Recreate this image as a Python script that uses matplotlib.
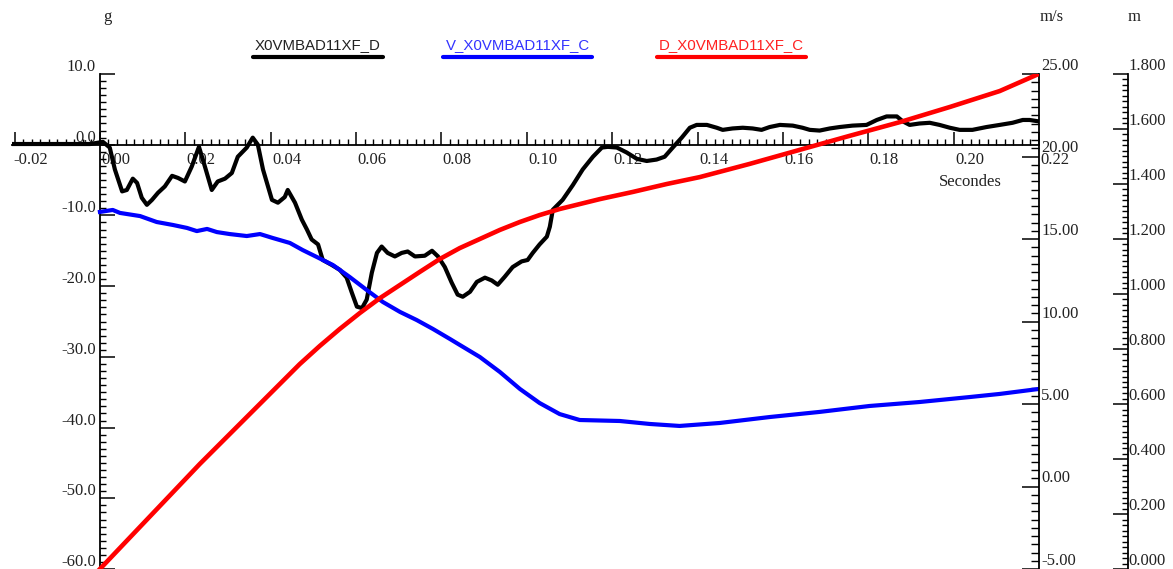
import numpy as np
import matplotlib
matplotlib.use("Agg")
import matplotlib.pyplot as plt
from matplotlib.ticker import MultipleLocator, FormatStrFormatter, FuncFormatter
from matplotlib.transforms import ScaledTranslation
from matplotlib.lines import Line2D

plt.rcParams['axes.unicode_minus'] = False

# acceleration X0VMBAD11XF_D (g)
t_acc = [-0.0206, -0.0023, 0.0007, 0.0023, 0.0035, 0.0052, 0.0063, 0.0077, 0.0087, 0.0098,
         0.0110, 0.0122, 0.0136, 0.0152, 0.0169, 0.0183, 0.0199, 0.0215, 0.0232, 0.0246,
         0.0262, 0.0276, 0.0293, 0.0309, 0.0323, 0.0344, 0.0358, 0.0370, 0.0382, 0.0403,
         0.0417, 0.0433, 0.0440, 0.0457, 0.0473, 0.0485, 0.0496, 0.0511, 0.0522, 0.0543,
         0.0562, 0.0578, 0.0590, 0.0602, 0.0614, 0.0625, 0.0637, 0.0649, 0.0660, 0.0674,
         0.0691, 0.0707, 0.0721, 0.0738, 0.0761, 0.0778, 0.0792, 0.0808, 0.0824, 0.0838,
         0.0850, 0.0867, 0.0883, 0.0902, 0.0918, 0.0932, 0.0948, 0.0967, 0.0988, 0.1002,
         0.1014, 0.1030, 0.1047, 0.1054, 0.1061, 0.1084, 0.1108, 0.1131, 0.1155, 0.1176,
         0.1190, 0.1211, 0.1234, 0.1258, 0.1281, 0.1304, 0.1323, 0.1342, 0.1363, 0.1382,
         0.1398, 0.1422, 0.1445, 0.1459, 0.1482, 0.1506, 0.1529, 0.1550, 0.1569, 0.1593,
         0.1623, 0.1646, 0.1663, 0.1686, 0.1710, 0.1733, 0.1763, 0.1796, 0.1820, 0.1843,
         0.1867, 0.1881, 0.1897, 0.1920, 0.1944, 0.1967, 0.1991, 0.2014, 0.2044, 0.2077,
         0.2108, 0.2138, 0.2162, 0.2178, 0.2199]
acc = [0.1, 0.1, 0.4, -0.4, -3.5, -6.6, -6.4, -4.8, -5.4, -7.5,
       -8.5, -7.8, -6.8, -5.9, -4.4, -4.7, -5.2, -3.1, -0.3, -3.1,
       -6.4, -5.2, -4.8, -4.0, -1.7, -0.4, 1.0, 0.0, -3.5, -7.8,
       -8.2, -7.4, -6.4, -8.2, -10.6, -12.0, -13.4, -14.1, -16.3, -17.0,
       -17.7, -18.8, -20.9, -22.9, -23.1, -21.9, -18.1, -15.3, -14.4, -15.3,
       -15.8, -15.3, -15.1, -15.8, -15.7, -15.0, -15.8, -17.3, -19.5, -21.2,
       -21.5, -20.8, -19.4, -18.8, -19.2, -19.8, -18.7, -17.3, -16.5, -16.3,
       -15.3, -14.1, -13.0, -11.6, -9.2, -7.8, -5.7, -3.5, -1.7, -0.4,
       -0.3, -0.4, -1.1, -2.0, -2.3, -2.1, -1.7, -0.4, 1.0, 2.4,
       2.8, 2.8, 2.4, 2.1, 2.3, 2.4, 2.3, 2.1, 2.5, 2.8,
       2.7, 2.4, 2.1, 2.0, 2.3, 2.5, 2.7, 2.8, 3.5, 4.0,
       4.0, 3.3, 2.8, 3.0, 3.1, 2.8, 2.4, 2.1, 2.1, 2.5,
       2.8, 3.1, 3.5, 3.5, 3.3]

# velocity V_X0VMBAD11XF_C (m/s)
t_vel = [0.0, 0.0030, 0.0047, 0.0094, 0.0133, 0.0171, 0.0204, 0.0227, 0.0251, 0.0274,
         0.0304, 0.0344, 0.0375, 0.0405, 0.0445, 0.0475, 0.0508, 0.0546, 0.0585, 0.0625,
         0.0663, 0.0703, 0.0742, 0.0780, 0.0820, 0.0843, 0.0890, 0.0937, 0.0984, 0.1030,
         0.1077, 0.1124, 0.1218, 0.1288, 0.1358, 0.1452, 0.1569, 0.1686, 0.1803, 0.1920,
         0.2037, 0.2108, 0.2199]
vel = [16.64, 16.76, 16.58, 16.39, 16.03, 15.85, 15.67, 15.48, 15.61, 15.42,
       15.30, 15.18, 15.30, 15.06, 14.76, 14.33, 13.91, 13.42, 12.70, 11.91,
       11.18, 10.58, 10.09, 9.55, 8.94, 8.58, 7.85, 6.94, 5.91, 5.06,
       4.39, 4.03, 3.97, 3.79, 3.67, 3.85, 4.21, 4.52, 4.88, 5.12,
       5.42, 5.61, 5.91]

# displacement D_X0VMBAD11XF_C (m)
t_disp = [0.0, 0.0234, 0.0468, 0.0515, 0.0562, 0.0609, 0.0656, 0.0703, 0.0749, 0.0796,
          0.0843, 0.0890, 0.0937, 0.0984, 0.1030, 0.1077, 0.1124, 0.1171, 0.1248, 0.1328,
          0.1405, 0.1522, 0.1639, 0.1756, 0.1874, 0.1991, 0.2108, 0.2199]
disp = [0.0, 0.382, 0.745, 0.811, 0.873, 0.931, 0.985, 1.033, 1.080, 1.127,
        1.167, 1.200, 1.233, 1.262, 1.287, 1.309, 1.327, 1.345, 1.371, 1.400,
        1.425, 1.473, 1.524, 1.575, 1.625, 1.680, 1.738, 1.800]

names = ['X0VMBAD11XF_D', 'V_X0VMBAD11XF_C', 'D_X0VMBAD11XF_C']
colors = ['#000000', '#0000ff', '#ff0000']

W, H = 1173, 569
fig = plt.figure(figsize=(W / 100, H / 100), dpi=100)
ax = fig.add_axes([12 / W, 0.0, (1039 - 12) / W, (569 - 74) / H])
ax2 = ax.twinx()
ax3 = ax.twinx()

serif = 'Liberation Serif'
tcol = '#222222'
fs = 12

ax.plot(t_acc, acc, color=colors[0], lw=3.0, solid_joinstyle='round')
ax2.plot(t_vel, vel, color=colors[1], lw=3.0)
ax3.plot(t_disp, disp, color=colors[2], lw=3.3)

ax.set_xlim(-0.0206, 0.22)
ax.set_ylim(-60, 10)
ax2.set_ylim(-5, 25)
ax3.set_ylim(0, 1.8)

for a in (ax, ax2, ax3):
    a.patch.set_visible(False)
    a.spines['top'].set_visible(False)

ax.spines['right'].set_visible(False)
ax.spines['left'].set_position(('data', 0))
ax.spines['bottom'].set_position(('data', 0))
ax.spines['left'].set_linewidth(1.3)
ax.spines['bottom'].set_linewidth(1.3)

for a in (ax2, ax3):
    a.spines['left'].set_visible(False)
    a.spines['bottom'].set_visible(False)
    a.spines['right'].set_linewidth(1.3)
ax3.spines['right'].set_position(('axes', (1128 - 12) / (1039 - 12)))

# x axis
ax.xaxis.set_major_locator(MultipleLocator(0.02))
ax.xaxis.set_minor_locator(MultipleLocator(0.002))
ax.xaxis.set_major_formatter(FuncFormatter(lambda v, p: '%.2f' % (round(v, 4) + 0.0)))
ax.tick_params(axis='x', which='major', direction='in', length=9.5, width=1.1, pad=5,
               labelsize=fs, labelcolor=tcol)
ax.tick_params(axis='x', which='minor', direction='in', length=4.3, width=1.0)
for lab in ax.get_xticklabels():
    lab.set_fontfamily(serif)
    lab.set_transform(lab.get_transform() + ScaledTranslation(0.16, 0, fig.dpi_scale_trans))

# left g axis
ax.yaxis.set_major_locator(MultipleLocator(10))
ax.yaxis.set_minor_locator(MultipleLocator(1))
ax.yaxis.set_major_formatter(FuncFormatter(lambda v, p: '%.1f' % (round(v, 3) + 0.0)))
ax.tick_params(axis='y', which='major', direction='in', length=10.8, width=1.1, pad=3,
               labelsize=fs, labelcolor=tcol)
ax.tick_params(axis='y', which='minor', direction='in', length=4.3, width=1.0)
for lab in ax.get_yticklabels():
    lab.set_fontfamily(serif)
    lab.set_transform(lab.get_transform() + ScaledTranslation(0, 0.09, fig.dpi_scale_trans))

# m/s axis
ax2.yaxis.set_major_locator(MultipleLocator(5))
ax2.yaxis.set_minor_locator(MultipleLocator(0.5))
ax2.yaxis.set_major_formatter(FormatStrFormatter('%.2f'))
ax2.tick_params(axis='y', which='major', direction='in', length=12, width=1.1, pad=1.5,
                labelsize=fs, labelcolor=tcol)
ax2.tick_params(axis='y', which='minor', direction='in', length=5.5, width=1.0)
for lab in ax2.get_yticklabels():
    lab.set_fontfamily(serif)
    lab.set_transform(lab.get_transform() + ScaledTranslation(0, 0.10, fig.dpi_scale_trans))

# m axis
ax3.yaxis.set_major_locator(MultipleLocator(0.2))
ax3.yaxis.set_minor_locator(MultipleLocator(0.02))
ax3.yaxis.set_major_formatter(FormatStrFormatter('%.3f'))
ax3.tick_params(axis='y', which='major', direction='in', length=10.8, width=1.1, pad=0.5,
                labelsize=fs, labelcolor=tcol)
ax3.tick_params(axis='y', which='minor', direction='in', length=4.3, width=1.0)
for lab in ax3.get_yticklabels():
    lab.set_fontfamily(serif)
    lab.set_transform(lab.get_transform() + ScaledTranslation(0, 0.10, fig.dpi_scale_trans))

# unit labels
fig.text(107 / W, 1 - 17 / H, 'g', ha='center', va='center', family=serif, fontsize=fs, color=tcol)
fig.text(1052 / W, 1 - 17 / H, 'm/s', ha='center', va='center', family=serif, fontsize=fs, color=tcol)
fig.text(1134 / W, 1 - 17 / H, 'm', ha='center', va='center', family=serif, fontsize=fs, color=tcol)
fig.text(970 / W, 1 - 182 / H, 'Secondes', ha='center', va='center', family=serif, fontsize=fs, color=tcol)

# legend
leg_x = [(253, 383), (443, 592), (657, 806)]
txt_cols = ['#222222', '#3333ff', '#ff2222']
for (x0, x1), name, c, tc in zip(leg_x, names, colors, txt_cols):
    fig.text((x0 + x1) / 2 / W, 1 - 45 / H, name, ha='center', va='center',
             family='Liberation Sans', fontsize=10.8, color=tc)
    fig.add_artist(Line2D([x0 / W, x1 / W], [1 - 57 / H, 1 - 57 / H], transform=fig.transFigure,
                          color=c, lw=3.0, solid_capstyle='round'))

fig.savefig('out.png', dpi=100)
